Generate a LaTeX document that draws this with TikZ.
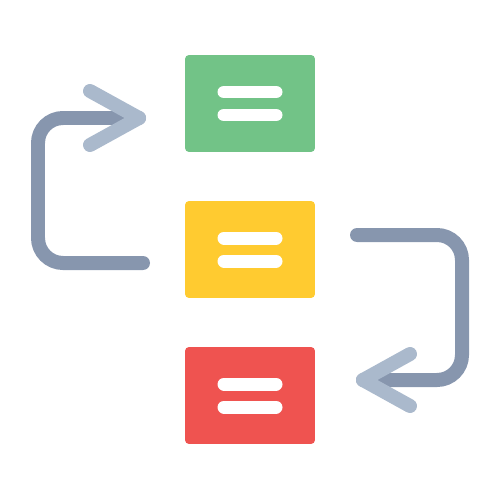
\documentclass[tikz,border=0pt]{standalone}
\definecolor{boxgreen}{HTML}{72C387}
\definecolor{boxyellow}{HTML}{FFCB30}
\definecolor{boxred}{HTML}{EF5350}
\definecolor{flowdark}{HTML}{8796AE}
\definecolor{flowlight}{HTML}{AAB9CC}
\begin{document}
\begin{tikzpicture}[x=0.02cm,y=-0.02cm,
    stage/.style={rectangle,rounded corners=0.08cm,minimum width=2.6cm,
      minimum height=1.94cm,inner sep=0pt},
    bar/.style={white,line width=0.26cm,line cap=round},
    flow/.style={flowdark,line width=0.28cm,line cap=round,rounded corners=0.5cm},
    head/.style={flowlight,line width=0.28cm,line cap=round,line join=round}]
    \useasboundingbox (0,0) rectangle (500,500);

    \foreach \n/\y/\c in
    {top/103.5/boxgreen,mid/249.5/boxyellow,bot/395.5/boxred}
    {\node[stage,fill=\c] (\n) at (250,\y) {};
    \draw[bar] ([shift={(-26,-11.5)}]\n.center) -- ([shift={(26,-11.5)}]\n.center);
    \draw[bar] ([shift={(-26,11.5)}]\n.center) -- ([shift={(26,11.5)}]\n.center);}

    % back loop on the left
    \coordinate (ls) at (143,263);
    \coordinate (lt) at (139,118);
    \draw[flow] (ls) -- (38,263) -- (38,118) -- (lt);
    \draw[head] (90,91) -- (lt) -- (90,145);

    % forward loop on the right
    \coordinate (rs) at (357,235);
    \coordinate (rt) at (363,380);
    \draw[flow] (rs) -- (462,235) -- (462,380) -- (rt);
    \draw[head] (410,354) -- (rt) -- (410,406);
  \end{tikzpicture}
\end{document}
